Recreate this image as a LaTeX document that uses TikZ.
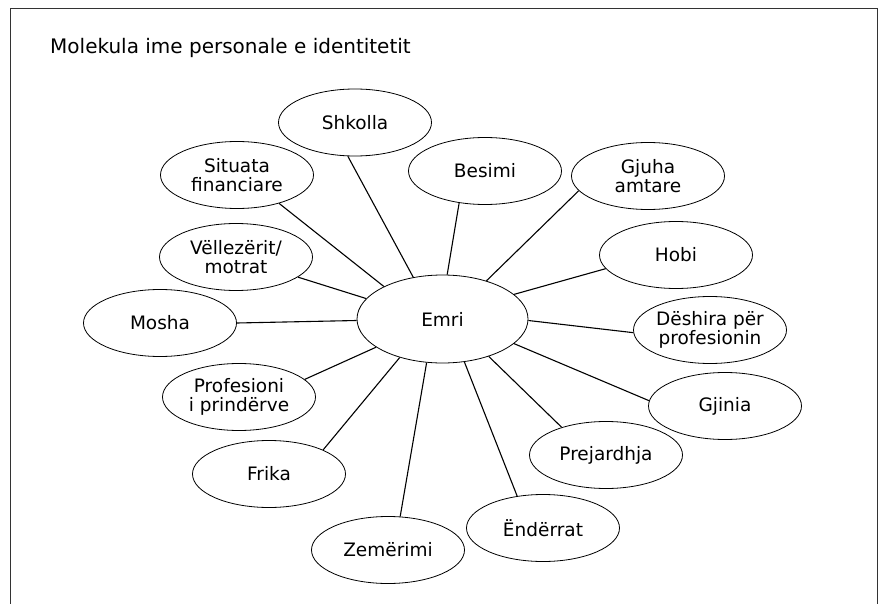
\documentclass[tikz,border=0pt]{standalone}
\usepackage{fontspec}
\setmainfont{DejaVu Sans}
\usetikzlibrary{shapes.geometric}
\begin{document}
\begin{tikzpicture}[x=1pt,y=-1pt]
			\tikzstyle{bubble} = [shape=ellipse, draw=black, line width=0.8pt, minimum width=153pt, minimum height=67pt, inner sep=-1pt, align=center, font=\fontsize{18.5}{19.5}\selectfont]
			\tikzstyle{link} = [line width=1.1pt]
			\tikzstyle{frame} = [line width=0.9pt, draw=black!80]
			\useasboundingbox (0,0) rectangle (883,604);
			\draw [frame] (10,604) -- (10,8) -- (877,8) -- (877,604);
			\node [anchor=base west, inner sep=0pt, font=\fontsize{20}{22}\selectfont] (title) at (50,54) {Molekula ime personale e identitetit};
			\node [bubble, minimum width=171pt, minimum height=88pt] (emri) at (442.5,319) {Emri};
			\node [bubble] (shkolla) at (355,122.5) {Shkolla};
			\node [bubble] (situata) at (237,175) {Situata\\financiare};
			\node [bubble] (besimi) at (485,171) {Besimi};
			\node [bubble] (gjuha) at (648,176) {Gjuha\\amtare};
			\node [bubble] (vellezerit) at (236,257) {Vëllezërit/\\motrat};
			\node [bubble] (hobi) at (676,255) {Hobi};
			\node [bubble] (mosha) at (160,323) {Mosha};
			\node [bubble] (deshira) at (710,330) {Dëshira për\\profesionin};
			\node [bubble] (profesioni) at (239,397) {Profesioni\\i prindërve};
			\node [bubble] (gjinia) at (725,406) {Gjinia};
			\node [bubble] (prejardhja) at (606,455) {Prejardhja};
			\node [bubble] (frika) at (269,474) {Frika};
			\node [bubble] (enderrat) at (543,528) {Ëndërrat};
			\node [bubble] (zemerimi) at (388,550) {Zemërimi};
			\draw [link] (emri.125) -- (shkolla.258.5);
			\draw [link] (emri.151.7) -- (situata.326);
			\draw [link] (emri.165.3) -- (vellezerit.-18.2);
			\draw [link] (emri.181) -- (mosha.0);
			\draw [link] (emri.203.6) -- (profesioni.15.8);
			\draw [link] (emri.222.5) -- (frika.24);
			\draw [link] (emri.250.6) -- (zemerimi.70.6);
			\draw [link] (emri.297) -- (enderrat.129.3);
			\draw [link] (emri.321.3) -- (prejardhja.148);
			\draw [link] (emri.341) -- (gjinia.176);
			\draw [link] (emri.359) -- (deshira.182);
			\draw [link] (emri.19.5) -- (hobi.191);
			\draw [link] (emri.41.8) -- (gjuha.192.9);
			\draw [link] (emri.84) -- (besimi.231.5);
\end{tikzpicture}
\end{document}
